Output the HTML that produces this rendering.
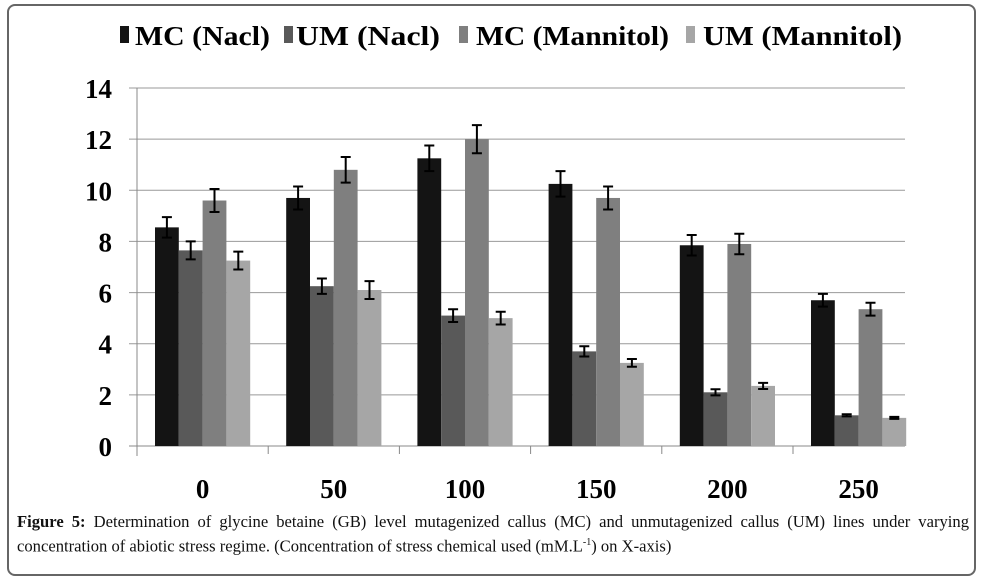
<!DOCTYPE html>
<html><head><meta charset="utf-8"><style>
body{margin:0;background:#fff;width:990px;height:583px;overflow:hidden;position:relative;font-family:"Liberation Serif",serif}
#frame{position:absolute;left:7px;top:4px;width:969px;height:572px;border:2px solid #666;border-radius:8px;box-sizing:border-box}
#cap{position:absolute;left:17px;top:511px;width:952px;font-size:16.6px;line-height:21px;color:#111}
#cap .l1{text-align:justify;text-align-last:justify;white-space:nowrap}
</style></head><body>
<div id="frame"></div>
<svg id="chart" width="990" height="505" style="position:absolute;left:0;top:0"></svg>
<div id="cap"><div class="l1"><b>Figure 5:</b> Determination of glycine betaine (GB) level mutagenized callus (MC) and unmutagenized callus (UM) lines under varying</div><div>concentration of abiotic stress regime. (Concentration of stress chemical used (mM.L<sup style="font-size:10px">-1</sup>) on X-axis)</div></div>
<script>
const categories=["0","50","100","150","200","250"];
const seriesNames=["MC (Nacl)","UM (Nacl)","MC (Mannitol)","UM (Mannitol)"];
const mcNacl=[8.55,9.7,11.25,10.25,7.85,5.7];
const umNacl=[7.65,6.25,5.1,3.7,2.1,1.2];
const mcMannitol=[9.6,10.8,12.0,9.7,7.9,5.35];
const umMannitol=[7.25,6.1,5.0,3.25,2.35,1.1];
const errMcNacl=[0.4,0.45,0.5,0.5,0.4,0.25];
const errUmNacl=[0.35,0.3,0.25,0.2,0.12,0.04];
const errMcMannitol=[0.45,0.5,0.55,0.45,0.4,0.25];
const errUmMannitol=[0.35,0.35,0.25,0.15,0.12,0.04];
const yTicks=[0,2,4,6,8,10,12,14];
const series=[mcNacl,umNacl,mcMannitol,umMannitol];
const errs=[errMcNacl,errUmNacl,errMcMannitol,errUmMannitol];
const colors=["#141414","#595959","#7f7f7f","#a6a6a6"];
const NS="http://www.w3.org/2000/svg";
const svg=document.getElementById('chart');
const x0=137,catW=131.2,plotR=905,yBase=446,yTop=88,yMax=14;
const y=v=>yBase-(v/yMax)*(yBase-yTop);
const xc=i=>x0+i*catW;
function mk(t,a,p){const e=document.createElementNS(NS,t);for(const k in a)e.setAttribute(k,a[k]);(p||svg).appendChild(e);return e;}
yTicks.forEach(t=>{
  const g=mk('line',{x1:x0-8,x2:plotR,y1:y(t),y2:y(t),stroke:t===0?'#888':'#999','stroke-width':1});
  
  
  const l=mk('text',{x:112,y:y(t)+10,'text-anchor':'end','font-size':27,'font-weight':'bold','font-family':'Liberation Serif'});
  l.textContent=t;
  
  
});
mk('line',{x1:x0,x2:x0,y1:yTop,y2:yBase+10,stroke:'#888'});
categories.forEach((c,i)=>{
  if(i>0)mk('line',{x1:xc(i),x2:xc(i),y1:yBase,y2:yBase+8,stroke:'#888'});
  const l=mk('text',{x:xc(i)+catW/2,y:498,'text-anchor':'middle','font-size':27,'font-weight':'bold','font-family':'Liberation Serif'});
  l.textContent=c;
  
  
  const bw=23.8,gx=xc(i)+18;
  series.forEach((s,k)=>{
    const bx=gx+k*bw;
    const r=mk('rect',{x:bx,y:y(s[i]),width:bw,height:yBase-y(s[i]),fill:colors[k]});
    
    
    const e=errs[k][i],cx=bx+bw/2;
    const eb=mk('path',{d:`M${cx-5},${y(s[i]+e)}H${cx+5}M${cx},${y(s[i]+e)}V${y(s[i]-e)}M${cx-5},${y(s[i]-e)}H${cx+5}`,stroke:'#000','stroke-width':2,fill:'none'});
    
    
  });
});
const legX=[[120,135,135],[284,296,144],[459,476,193],[686,703,199]];
seriesNames.forEach((n,k)=>{
  const g=mk('g',{});
  
  
  mk('rect',{x:legX[k][0],y:26,width:9,height:17,fill:colors[k]},g);
  const t=mk('text',{x:legX[k][1],y:45,'font-size':27,'font-weight':'bold','font-family':'Liberation Serif',textLength:legX[k][2],lengthAdjust:'spacingAndGlyphs'},g);
  t.textContent=n;
});
</script>
</body></html>
